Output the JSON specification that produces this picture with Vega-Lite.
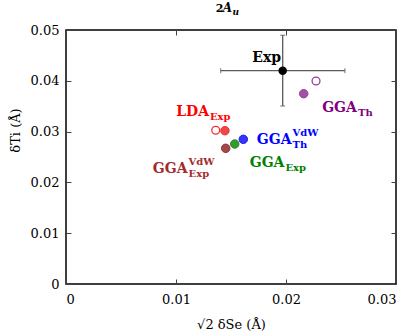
{
  "$schema": "https://vega.github.io/schema/vega-lite/v6.json",
  "width": 330,
  "height": 254,
  "autosize": {"type": "none"},
  "padding": {"left": 66, "top": 30, "right": 20, "bottom": 52},
  "config": {
    "view": {"stroke": "black", "strokeWidth": 1.5},
    "font": "DejaVu Serif",
    "axis": {
      "grid": false,
      "domain": false,
      "tickColor": "#444",
      "tickWidth": 1,
      "tickSize": -5,
      "labelFont": "DejaVu Serif",
      "labelFontSize": 13,
      "labelColor": "black",
      "titleFont": "DejaVu Serif",
      "titleFontSize": 13,
      "titleFontWeight": "normal",
      "titleColor": "black"
    }
  },
  "datasets": {
    "pts": [
      {"model": "GGAVdW_Exp", "kind": "solid", "x": 0.01452, "y": 0.02671},
      {"model": "GGA_Exp", "kind": "solid", "x": 0.01534, "y": 0.02756},
      {"model": "GGAVdW_Th", "kind": "solid", "x": 0.01612, "y": 0.02848},
      {"model": "LDA", "kind": "open", "x": 0.01361, "y": 0.03026},
      {"model": "LDA", "kind": "solid", "x": 0.01445, "y": 0.03018},
      {"model": "GGA_Th", "kind": "open", "x": 0.02273, "y": 0.03996},
      {"model": "GGA_Th", "kind": "solid", "x": 0.02161, "y": 0.03746}
    ],
    "exp": [
      {"x": 0.0197, "y": 0.0420, "xlo": 0.01406, "xhi": 0.02536, "ylo": 0.03504, "yhi": 0.04896}
    ],
    "labels": [
      {"series": "Exp", "role": "main", "text": "Exp", "x": 0.01955, "y": 0.0437},
      {"series": "LDA", "role": "main", "text": "LDA", "x": 0.0130, "y": 0.03307},
      {"series": "LDA", "role": "sub", "text": "Exp", "x": 0.0130, "y": 0.03307},
      {"series": "GGA_Th", "role": "main", "text": "GGA", "x": 0.02645, "y": 0.03386},
      {"series": "GGA_Th", "role": "sub", "text": "Th", "x": 0.02645, "y": 0.03386},
      {"series": "GGAVdW_Th", "role": "main", "text": "GGA", "x": 0.0205, "y": 0.02756},
      {"series": "GGAVdW_Th", "role": "sup", "text": "VdW", "x": 0.0205, "y": 0.02756},
      {"series": "GGAVdW_Th", "role": "sub", "text": "Th", "x": 0.0205, "y": 0.02756},
      {"series": "GGA_Exp", "role": "main", "text": "GGA", "x": 0.01986, "y": 0.02309},
      {"series": "GGA_Exp", "role": "sub", "text": "Exp", "x": 0.01986, "y": 0.02309},
      {"series": "GGAVdW_Exp", "role": "main", "text": "GGA", "x": 0.01105, "y": 0.02179},
      {"series": "GGAVdW_Exp", "role": "sup", "text": "VdW", "x": 0.01105, "y": 0.02179},
      {"series": "GGAVdW_Exp", "role": "sub", "text": "Exp", "x": 0.01105, "y": 0.02179},
      {"series": "title", "role": "t2", "text": "2", "x": 0.01432, "y": 0.0536},
      {"series": "title", "role": "tA", "text": "A", "x": 0.0151, "y": 0.0536},
      {"series": "title", "role": "tu", "text": "u", "x": 0.0151, "y": 0.0536}
    ]
  },
  "resolve": {"axis": {"x": "independent", "y": "independent"}},
  "layer": [
    {
      "data": {"name": "exp"},
      "mark": {"type": "point", "opacity": 0},
      "encoding": {
        "x": {"field": "x", "type": "quantitative", "scale": {"domain": [0, 0.03], "nice": false, "zero": false},
          "axis": {"orient": "bottom", "values": [0, 0.01, 0.02, 0.03], "labelExpr": "datum.value == 0 ? '0' : format(datum.value, '.2f')", "labelPadding": 14, "title": "√2 δSe (Å)", "titlePadding": 12}},
        "y": {"field": "y", "type": "quantitative", "scale": {"domain": [0, 0.05], "nice": false, "zero": false},
          "axis": {"orient": "left", "values": [0, 0.01, 0.02, 0.03, 0.04, 0.05], "labelExpr": "datum.value == 0 ? '0' : format(datum.value, '.2f')", "labelPadding": 12, "title": "δTi (Å)", "titleX": -51, "titleY": 100, "titleAngle": 270, "titleAlign": "center", "titleBaseline": "middle"}}
      }
    },
    {
      "data": {"name": "exp"},
      "mark": {"type": "point", "opacity": 0},
      "encoding": {
        "x": {"field": "x", "type": "quantitative", "axis": {"orient": "top", "values": [0, 0.01, 0.02, 0.03], "labels": false, "title": null}},
        "y": {"field": "y", "type": "quantitative", "axis": {"orient": "right", "values": [0, 0.01, 0.02, 0.03, 0.04, 0.05], "labels": false, "title": null}}
      }
    },
    {
      "data": {"name": "exp"},
      "mark": {"type": "rule", "color": "#5a5a5a", "strokeWidth": 1.3},
      "encoding": {
        "x": {"field": "xlo", "type": "quantitative", "axis": null},
        "x2": {"field": "xhi"},
        "y": {"field": "y", "type": "quantitative", "axis": null}
      }
    },
    {
      "data": {"name": "exp"},
      "mark": {"type": "rule", "color": "#5a5a5a", "strokeWidth": 1.3},
      "encoding": {
        "x": {"field": "x", "type": "quantitative", "axis": null},
        "y": {"field": "ylo", "type": "quantitative", "axis": null},
        "y2": {"field": "yhi"}
      }
    },
    {
      "data": {"name": "exp"},
      "mark": {"type": "tick", "orient": "vertical", "color": "#5a5a5a", "size": 5, "thickness": 1.2},
      "encoding": {
        "x": {"field": "xlo", "type": "quantitative", "axis": null},
        "y": {"field": "y", "type": "quantitative", "axis": null}
      }
    },
    {
      "data": {"name": "exp"},
      "mark": {"type": "tick", "orient": "vertical", "color": "#5a5a5a", "size": 5, "thickness": 1.2},
      "encoding": {
        "x": {"field": "xhi", "type": "quantitative", "axis": null},
        "y": {"field": "y", "type": "quantitative", "axis": null}
      }
    },
    {
      "data": {"name": "exp"},
      "mark": {"type": "tick", "orient": "horizontal", "color": "#5a5a5a", "size": 5, "thickness": 1.2},
      "encoding": {
        "x": {"field": "x", "type": "quantitative", "axis": null},
        "y": {"field": "ylo", "type": "quantitative", "axis": null}
      }
    },
    {
      "data": {"name": "exp"},
      "mark": {"type": "tick", "orient": "horizontal", "color": "#5a5a5a", "size": 5, "thickness": 1.2},
      "encoding": {
        "x": {"field": "x", "type": "quantitative", "axis": null},
        "y": {"field": "yhi", "type": "quantitative", "axis": null}
      }
    },
    {
      "data": {"name": "exp"},
      "mark": {"type": "point", "shape": "circle", "filled": true, "color": "black", "size": 72, "opacity": 1},
      "encoding": {
        "x": {"field": "x", "type": "quantitative", "axis": null},
        "y": {"field": "y", "type": "quantitative", "axis": null}
      }
    },
    {
      "data": {"name": "pts"},
      "transform": [{"filter": "datum.kind == 'open'"}],
      "mark": {"type": "point", "shape": "circle", "fill": "white", "fillOpacity": 1, "strokeWidth": 1.3, "size": 62, "opacity": 1},
      "encoding": {
        "x": {"field": "x", "type": "quantitative", "axis": null},
        "y": {"field": "y", "type": "quantitative", "axis": null},
        "stroke": {"field": "model", "type": "nominal", "legend": null,
          "scale": {"domain": ["LDA", "GGA_Th", "GGAVdW_Th", "GGA_Exp", "GGAVdW_Exp"], "range": ["#f03030", "#9a3c9a", "#2020f0", "#2a8a2a", "#8f3535"]}}
      }
    },
    {
      "data": {"name": "pts"},
      "transform": [{"filter": "datum.kind == 'solid'"}],
      "mark": {"type": "point", "shape": "circle", "fillOpacity": 1, "strokeWidth": 1, "size": 72, "opacity": 1},
      "encoding": {
        "x": {"field": "x", "type": "quantitative", "axis": null},
        "y": {"field": "y", "type": "quantitative", "axis": null},
        "fill": {"field": "model", "type": "nominal", "legend": null,
          "scale": {"domain": ["LDA", "GGA_Th", "GGAVdW_Th", "GGA_Exp", "GGAVdW_Exp"], "range": ["#ee4848", "#a352a3", "#3535f5", "#339933", "#a04a4a"]}},
        "stroke": {"field": "model", "type": "nominal", "legend": null}
      }
    },
    {
      "data": {"name": "labels"},
      "transform": [{"filter": "datum.role == 'main'"}],
      "mark": {"type": "text", "align": "right", "baseline": "alphabetic", "fontSize": 14, "fontWeight": "bold", "font": "DejaVu Serif"},
      "encoding": {
        "x": {"field": "x", "type": "quantitative", "axis": null},
        "y": {"field": "y", "type": "quantitative", "axis": null},
        "text": {"field": "text"},
        "color": {"field": "series", "type": "nominal", "legend": null,
          "scale": {"domain": ["Exp", "LDA", "GGA_Th", "GGAVdW_Th", "GGA_Exp", "GGAVdW_Exp", "title"], "range": ["black", "#ff0000", "#800080", "#0000ff", "#008000", "#a52a2a", "black"]}}
      }
    },
    {
      "data": {"name": "labels"},
      "transform": [{"filter": "datum.role == 'sub'"}],
      "mark": {"type": "text", "align": "left", "baseline": "alphabetic", "dx": 1, "dy": 4, "fontSize": 10, "fontWeight": "bold", "font": "DejaVu Serif"},
      "encoding": {
        "x": {"field": "x", "type": "quantitative", "axis": null},
        "y": {"field": "y", "type": "quantitative", "axis": null},
        "text": {"field": "text"},
        "color": {"field": "series", "type": "nominal", "legend": null}
      }
    },
    {
      "data": {"name": "labels"},
      "transform": [{"filter": "datum.role == 'sup'"}],
      "mark": {"type": "text", "align": "left", "baseline": "alphabetic", "dx": 1, "dy": -8, "fontSize": 10, "fontWeight": "bold", "font": "DejaVu Serif"},
      "encoding": {
        "x": {"field": "x", "type": "quantitative", "axis": null},
        "y": {"field": "y", "type": "quantitative", "axis": null},
        "text": {"field": "text"},
        "color": {"field": "series", "type": "nominal", "legend": null}
      }
    },
    {
      "data": {"name": "labels"},
      "transform": [{"filter": "datum.role == 't2'"}],
      "mark": {"type": "text", "align": "right", "baseline": "alphabetic", "fontSize": 11, "fontWeight": "bold", "font": "DejaVu Serif"},
      "encoding": {
        "x": {"field": "x", "type": "quantitative", "axis": null},
        "y": {"field": "y", "type": "quantitative", "axis": null},
        "text": {"field": "text"},
        "color": {"field": "series", "type": "nominal", "legend": null}
      }
    },
    {
      "data": {"name": "labels"},
      "transform": [{"filter": "datum.role == 'tA'"}],
      "mark": {"type": "text", "align": "right", "baseline": "alphabetic", "fontSize": 12, "fontWeight": "bold", "fontStyle": "italic", "font": "DejaVu Serif"},
      "encoding": {
        "x": {"field": "x", "type": "quantitative", "axis": null},
        "y": {"field": "y", "type": "quantitative", "axis": null},
        "text": {"field": "text"},
        "color": {"field": "series", "type": "nominal", "legend": null}
      }
    },
    {
      "data": {"name": "labels"},
      "transform": [{"filter": "datum.role == 'tu'"}],
      "mark": {"type": "text", "align": "left", "baseline": "alphabetic", "dx": 0.5, "dy": 3, "fontSize": 9, "fontWeight": "bold", "fontStyle": "italic", "font": "DejaVu Serif"},
      "encoding": {
        "x": {"field": "x", "type": "quantitative", "axis": null},
        "y": {"field": "y", "type": "quantitative", "axis": null},
        "text": {"field": "text"},
        "color": {"field": "series", "type": "nominal", "legend": null}
      }
    }
  ]
}
